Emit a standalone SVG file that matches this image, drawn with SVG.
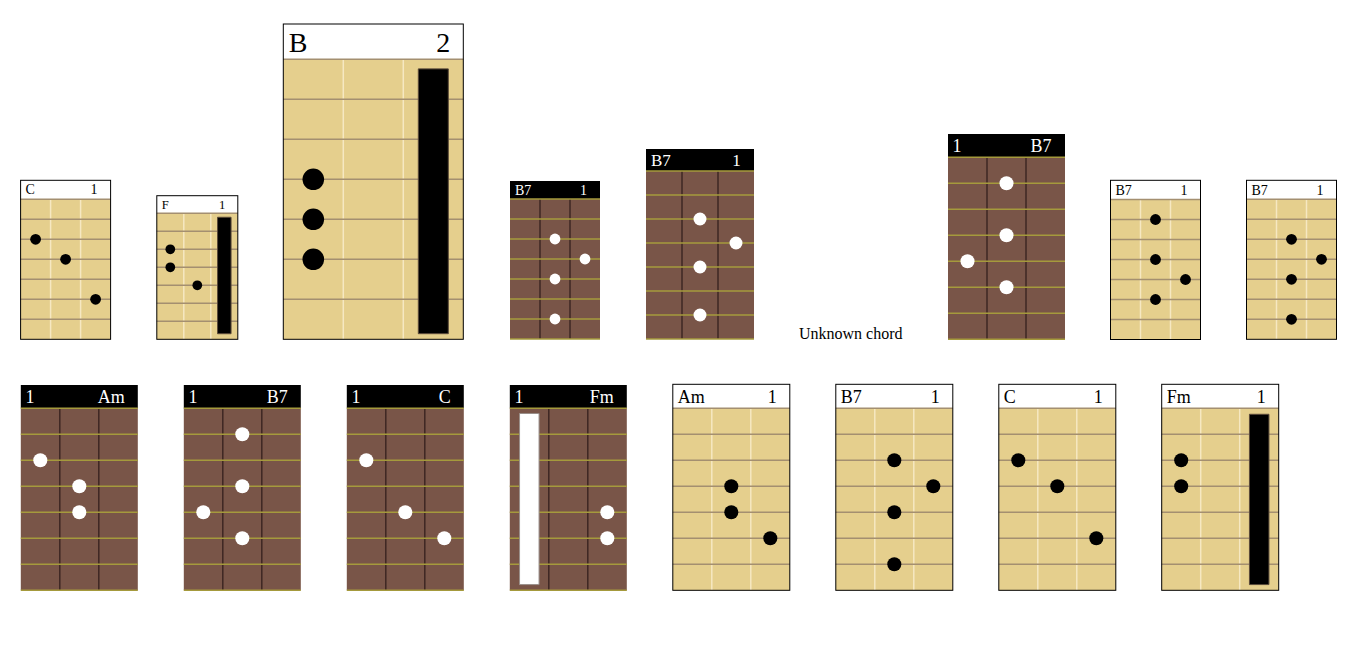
<svg xmlns="http://www.w3.org/2000/svg" xmlns:xlink="http://www.w3.org/1999/xlink" width="1367" height="661" viewBox="0 0 1367 661">
<style>
.ns{vector-effect:non-scaling-stroke;fill:none}
.lv{stroke:#f6e8c2;stroke-width:1.5}
.lh{stroke:#a48f70;stroke-width:1.5}
.bv{stroke:#3e2723;stroke-width:1.5}
.bh{stroke:#a59a3c;stroke-width:1.5}
.hl{fill:#ffffff}
.hb{fill:#000000}
.bd{fill:none;stroke:#000000;stroke-width:1}
.dk{fill:#000000}
.wt{fill:#ffffff}
.barK{fill:#000000;stroke:#5a4a3a;stroke-width:1;vector-effect:non-scaling-stroke}
.barW{fill:#ffffff;stroke:#9a8f8a;stroke-width:1;vector-effect:non-scaling-stroke}
.t{font-family:"Liberation Serif","Times New Roman",serif;fill:#000000}
.tw{font-family:"Liberation Serif","Times New Roman",serif;fill:#ffffff}
.e{text-anchor:end}
</style>
<defs>
<g id="lb">
<rect width="4.5" height="7" fill="#e5cf8d"/>
<path class="ns lv" d="M1.5 0V7M3 0V7"/>
<path class="ns lh" d="M0 0H4.5M0 1H4.5M0 2H4.5M0 3H4.5M0 4H4.5M0 5H4.5M0 6H4.5"/>
</g>
<g id="bb">
<rect width="4.5" height="7" fill="#795548"/>
<path class="ns bv" d="M1.5 0V7M3 0V7"/>
<path class="ns bh" d="M0 0H4.5M0 1H4.5M0 2H4.5M0 3H4.5M0 4H4.5M0 5H4.5M0 6H4.5M0 7H4.5"/>
</g>
</defs>

<g id="chord1-C">
<rect class="hl" x="20.6" y="180.3" width="90" height="19"/>
<g transform="translate(20.6 199.3) scale(20)">
<use href="#lb"/>
<circle class="dk" cx="0.75" cy="2" r="0.27"/><circle class="dk" cx="2.25" cy="3" r="0.27"/><circle class="dk" cx="3.75" cy="5" r="0.27"/>
</g>
<rect class="bd" x="20.6" y="180.3" width="90" height="159"/>
<text class="t" x="25.6" y="194.3" font-size="14">C</text>
<text class="t e" x="97.6" y="194.3" font-size="14">1</text>
</g>

<g id="chord2-F">
<rect class="hl" x="156.8" y="195.7" width="81" height="17.6"/>
<g transform="translate(156.8 213.3) scale(18)">
<use href="#lb"/>
<rect class="barK" x="3.375" y="0.22" width="0.75" height="6.47"/>
<circle class="dk" cx="0.75" cy="2" r="0.27"/><circle class="dk" cx="0.75" cy="3" r="0.27"/><circle class="dk" cx="2.25" cy="4" r="0.27"/>
</g>
<rect class="bd" x="156.8" y="195.7" width="81" height="143.6"/>
<text class="t" x="161.8" y="209.2" font-size="12.6">F</text>
<text class="t e" x="225.4" y="209.2" font-size="12.6">1</text>
</g>

<g id="chord3-B">
<rect class="hl" x="283.3" y="24" width="180" height="35.3"/>
<g transform="translate(283.3 59.3) scale(40)">
<use href="#lb"/>
<rect class="barK" x="3.375" y="0.24" width="0.75" height="6.62"/>
<circle class="dk" cx="0.75" cy="3" r="0.27"/><circle class="dk" cx="0.75" cy="4" r="0.27"/><circle class="dk" cx="0.75" cy="5" r="0.27"/>
</g>
<rect class="bd" x="283.3" y="24" width="180" height="315.3"/>
<text class="t" x="288.8" y="52.3" font-size="28">B</text>
<text class="t e" x="450.3" y="52.3" font-size="28">2</text>
</g>

<g id="chord4-B7">
<rect class="hb" x="510" y="181" width="90" height="18"/>
<g transform="translate(510 199) scale(20)">
<use href="#bb"/>
<circle class="wt" cx="2.25" cy="2" r="0.27"/><circle class="wt" cx="3.75" cy="3" r="0.27"/><circle class="wt" cx="2.25" cy="4" r="0.27"/><circle class="wt" cx="2.25" cy="6" r="0.27"/>
</g>
<text class="tw" x="515" y="195" font-size="14">B7</text>
<text class="tw e" x="587" y="195" font-size="14">1</text>
</g>

<g id="chord5-B7">
<rect class="hb" x="646" y="149" width="108" height="22"/>
<g transform="translate(646 171) scale(24)">
<use href="#bb"/>
<circle class="wt" cx="2.25" cy="2" r="0.27"/><circle class="wt" cx="3.75" cy="3" r="0.27"/><circle class="wt" cx="2.25" cy="4" r="0.27"/><circle class="wt" cx="2.25" cy="6" r="0.27"/>
</g>
<text class="tw" x="651" y="165.7" font-size="17">B7</text>
<text class="tw e" x="740.8" y="165.7" font-size="17">1</text>
</g>

<g id="unknown-chord">
<text class="t" x="799" y="339.3" font-size="16">Unknown chord</text>
</g>

<g id="chord6-B7">
<rect class="hb" x="948" y="134" width="117" height="23.3"/>
<g transform="translate(948 157.3) scale(26)">
<use href="#bb"/>
<circle class="wt" cx="2.25" cy="1" r="0.27"/><circle class="wt" cx="2.25" cy="3" r="0.27"/><circle class="wt" cx="0.75" cy="4" r="0.27"/><circle class="wt" cx="2.25" cy="5" r="0.27"/>
</g>
<text class="tw" x="952.5" y="151.7" font-size="18">1</text>
<text class="tw e" x="1051.5" y="151.7" font-size="18">B7</text>
</g>

<g id="chord7-B7">
<rect class="hl" x="1110.5" y="180.3" width="90" height="19.2"/>
<g transform="translate(1110.5 199.5) scale(20)">
<use href="#lb"/>
<circle class="dk" cx="2.25" cy="1" r="0.27"/><circle class="dk" cx="2.25" cy="3" r="0.27"/><circle class="dk" cx="3.75" cy="4" r="0.27"/><circle class="dk" cx="2.25" cy="5" r="0.27"/>
</g>
<rect class="bd" x="1110.5" y="180.3" width="90" height="159.2"/>
<text class="t" x="1115.5" y="194.8" font-size="14">B7</text>
<text class="t e" x="1187.5" y="194.8" font-size="14">1</text>
</g>

<g id="chord8-B7">
<rect class="hl" x="1246.5" y="180.3" width="90" height="19"/>
<g transform="translate(1246.5 199.3) scale(20)">
<use href="#lb"/>
<circle class="dk" cx="2.25" cy="2" r="0.27"/><circle class="dk" cx="3.75" cy="3" r="0.27"/><circle class="dk" cx="2.25" cy="4" r="0.27"/><circle class="dk" cx="2.25" cy="6" r="0.27"/>
</g>
<rect class="bd" x="1246.5" y="180.3" width="90" height="159"/>
<text class="t" x="1251.5" y="194.8" font-size="14">B7</text>
<text class="t e" x="1323.5" y="194.8" font-size="14">1</text>
</g>

<g id="chord9-Am">
<rect class="hb" x="20.8" y="385" width="117" height="23.3"/>
<g transform="translate(20.8 408.3) scale(26)">
<use href="#bb"/>
<circle class="wt" cx="0.75" cy="2" r="0.27"/><circle class="wt" cx="2.25" cy="3" r="0.27"/><circle class="wt" cx="2.25" cy="4" r="0.27"/>
</g>
<text class="tw" x="25.5" y="402.7" font-size="18">1</text>
<text class="tw e" x="124.8" y="402.7" font-size="18">Am</text>
</g>

<g id="chord10-B7">
<rect class="hb" x="183.8" y="385" width="117" height="23.3"/>
<g transform="translate(183.8 408.3) scale(26)">
<use href="#bb"/>
<circle class="wt" cx="2.25" cy="1" r="0.27"/><circle class="wt" cx="2.25" cy="3" r="0.27"/><circle class="wt" cx="0.75" cy="4" r="0.27"/><circle class="wt" cx="2.25" cy="5" r="0.27"/>
</g>
<text class="tw" x="188.5" y="402.7" font-size="18">1</text>
<text class="tw e" x="287.8" y="402.7" font-size="18">B7</text>
</g>

<g id="chord11-C">
<rect class="hb" x="346.8" y="385" width="117" height="23.3"/>
<g transform="translate(346.8 408.3) scale(26)">
<use href="#bb"/>
<circle class="wt" cx="0.75" cy="2" r="0.27"/><circle class="wt" cx="2.25" cy="4" r="0.27"/><circle class="wt" cx="3.75" cy="5" r="0.27"/>
</g>
<text class="tw" x="351.5" y="402.7" font-size="18">1</text>
<text class="tw e" x="450.8" y="402.7" font-size="18">C</text>
</g>

<g id="chord12-Fm">
<rect class="hb" x="509.8" y="385" width="117" height="23.3"/>
<g transform="translate(509.8 408.3) scale(26)">
<use href="#bb"/>
<rect class="barW" x="0.375" y="0.2" width="0.75" height="6.58"/>
<circle class="wt" cx="3.75" cy="4" r="0.27"/><circle class="wt" cx="3.75" cy="5" r="0.27"/>
</g>
<text class="tw" x="514.5" y="402.7" font-size="18">1</text>
<text class="tw e" x="613.8" y="402.7" font-size="18">Fm</text>
</g>

<g id="chord13-Am">
<rect class="hl" x="672.8" y="384.3" width="117" height="24"/>
<g transform="translate(672.8 408.3) scale(26)">
<use href="#lb"/>
<circle class="dk" cx="2.25" cy="3" r="0.27"/><circle class="dk" cx="2.25" cy="4" r="0.27"/><circle class="dk" cx="3.75" cy="5" r="0.27"/>
</g>
<rect class="bd" x="672.8" y="384.3" width="117" height="206"/>
<text class="t" x="677.8" y="402.7" font-size="18">Am</text>
<text class="t e" x="776.8" y="402.7" font-size="18">1</text>
</g>

<g id="chord14-B7">
<rect class="hl" x="835.8" y="384.3" width="117" height="24"/>
<g transform="translate(835.8 408.3) scale(26)">
<use href="#lb"/>
<circle class="dk" cx="2.25" cy="2" r="0.27"/><circle class="dk" cx="3.75" cy="3" r="0.27"/><circle class="dk" cx="2.25" cy="4" r="0.27"/><circle class="dk" cx="2.25" cy="6" r="0.27"/>
</g>
<rect class="bd" x="835.8" y="384.3" width="117" height="206"/>
<text class="t" x="840.8" y="402.7" font-size="18">B7</text>
<text class="t e" x="939.8" y="402.7" font-size="18">1</text>
</g>

<g id="chord15-C">
<rect class="hl" x="998.8" y="384.3" width="117" height="24"/>
<g transform="translate(998.8 408.3) scale(26)">
<use href="#lb"/>
<circle class="dk" cx="0.75" cy="2" r="0.27"/><circle class="dk" cx="2.25" cy="3" r="0.27"/><circle class="dk" cx="3.75" cy="5" r="0.27"/>
</g>
<rect class="bd" x="998.8" y="384.3" width="117" height="206"/>
<text class="t" x="1003.8" y="402.7" font-size="18">C</text>
<text class="t e" x="1102.8" y="402.7" font-size="18">1</text>
</g>

<g id="chord16-Fm">
<rect class="hl" x="1161.7" y="384.3" width="117" height="24"/>
<g transform="translate(1161.7 408.3) scale(26)">
<use href="#lb"/>
<rect class="barK" x="3.375" y="0.23" width="0.75" height="6.55"/>
<circle class="dk" cx="0.75" cy="2" r="0.27"/><circle class="dk" cx="0.75" cy="3" r="0.27"/>
</g>
<rect class="bd" x="1161.7" y="384.3" width="117" height="206"/>
<text class="t" x="1166.7" y="402.7" font-size="18">Fm</text>
<text class="t e" x="1265.7" y="402.7" font-size="18">1</text>
</g>

<g id="connectors"></g>
</svg>
